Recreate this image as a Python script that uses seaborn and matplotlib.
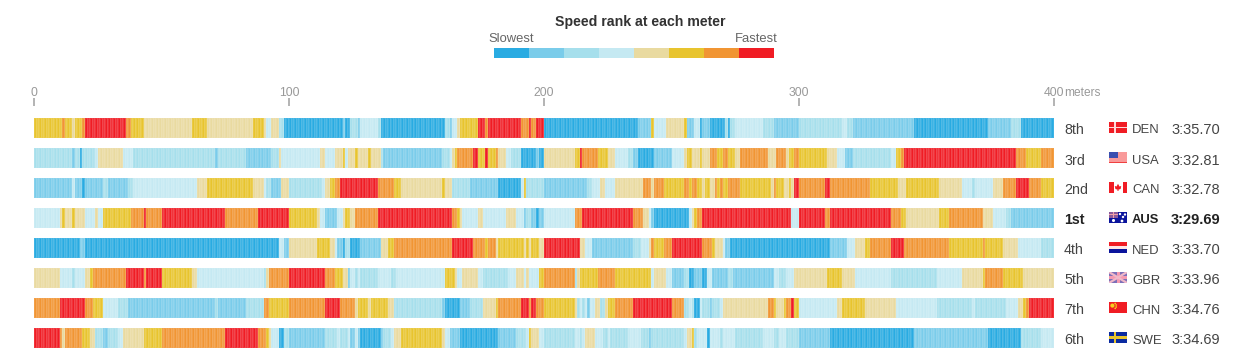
import numpy as np
import matplotlib
matplotlib.use('Agg')
import matplotlib.pyplot as plt
from matplotlib.colors import ListedColormap
from matplotlib.patches import Rectangle, Polygon
import seaborn as sns

# speed rank per stretch: (rank, last meter of the stretch)
# 0 = slowest ... 7 = fastest
den = [(5,11),(6,12),(5,15),(4,16),(5,19),(6,20),(7,36),(6,38),(5,43),(4,62),(5,68),(4,86),(5,90),(4,91),(3,93),(4,96),(2,98),
       (0,121),(1,122),(0,124),(2,127),(1,128),(3,135),(2,136),(0,161),(2,163),(1,164),(3,166),(4,167),(5,174),(7,177),(6,178),
       (7,191),(6,194),(7,195),(6,197),(7,200),(0,237),(1,242),(5,243),(3,248),(4,255),(5,256),(1,259),(3,261),(0,262),(1,265),
       (0,271),(2,272),(0,273),(2,275),(3,286),(2,290),(1,300),(2,317),(3,319),(2,321),(1,345),(0,374),(1,383),(2,387),(0,400)]
usa = [(2,15),(1,16),(2,18),(0,19),(2,24),(3,25),(4,35),(3,39),(2,71),(1,72),(2,83),(1,93),(2,96),(4,97),(3,112),(4,114),(3,118),
       (4,121),(5,122),(3,123),(4,126),(5,127),(4,131),(5,132),(4,136),(2,137),(1,160),(2,163),(3,164),(4,165),(5,166),(6,172),
       (7,174),(5,177),(7,178),(5,181),(6,182),(4,185),(3,187),(2,191),(0,197),(1,198),(0,200),(4,212),(5,214),(7,215),(6,221),
       (5,225),(4,228),(3,233),(2,235),(1,237),(0,243),(1,250),(3,255),(4,256),(5,258),(4,261),(5,262),(4,265),(6,268),(5,270),
       (6,272),(5,275),(4,277),(6,288),(4,291),(6,295),(4,296),(5,298),(6,300),(5,311),(4,315),(3,318),(1,321),(2,336),(3,338),
       (5,340),(6,341),(7,385),(6,389),(5,395),(6,400)]
can = [(1,15),(3,16),(1,19),(0,20),(1,27),(2,29),(1,37),(2,39),(3,64),(4,68),(5,86),(4,90),(3,91),(2,93),(1,97),(4,100),(2,113),
       (3,114),(4,116),(5,118),(6,120),(7,135),(6,141),(5,144),(4,160),(5,161),(4,164),(2,171),(1,182),(0,191),(3,192),(5,193),
       (2,200),(1,217),(2,219),(3,222),(4,224),(3,228),(4,239),(6,242),(4,243),(6,247),(5,255),(6,257),(5,258),(6,260),(5,262),
       (4,263),(5,265),(4,267),(6,268),(5,269),(6,270),(5,272),(6,277),(5,289),(4,290),(6,291),(5,294),(4,296),(5,297),(4,298),
       (7,300),(6,310),(7,312),(6,328),(5,339),(4,342),(5,355),(4,364),(3,368),(2,369),(3,376),(4,380),(6,385),(7,390),(6,395),(5,400)]
aus = [(3,10),(4,11),(5,12),(4,15),(5,16),(4,20),(3,24),(4,25),(3,27),(5,38),(6,43),(7,44),(6,50),(7,75),(6,88),(7,100),(5,111),
       (4,112),(3,114),(1,119),(3,121),(4,122),(5,124),(4,126),(6,135),(7,164),(6,166),(5,167),(4,168),(3,174),(4,176),(3,185),
       (4,189),(3,192),(1,193),(2,195),(1,197),(0,198),(1,200),(3,212),(6,215),(7,235),(6,239),(4,241),(3,242),(1,243),(0,257),
       (3,258),(4,259),(5,260),(6,262),(7,297),(3,300),(7,310),(6,312),(7,336),(6,340),(5,342),(4,355),(5,359),(6,372),(4,376),
       (3,381),(2,383),(1,400)]
ned = [(0,18),(1,20),(0,96),(3,98),(1,100),(4,111),(5,116),(4,118),(3,119),(1,121),(0,122),(2,124),(0,128),(1,136),(4,139),(5,141),
       (6,164),(7,172),(6,177),(5,178),(6,181),(4,182),(5,192),(4,193),(5,194),(4,195),(5,198),(4,200),(7,214),(4,216),(3,219),
       (1,235),(2,238),(3,241),(4,242),(6,243),(5,247),(6,250),(7,262),(6,266),(5,267),(4,270),(3,271),(1,273),(0,312),(1,319),
       (3,322),(4,326),(5,328),(6,336),(7,341),(6,359),(5,372),(6,373),(5,380),(4,386),(3,395),(2,400)]
gbr = [(4,10),(3,15),(2,16),(3,20),(4,22),(5,23),(6,36),(7,43),(6,44),(7,50),(5,62),(4,64),(3,90),(2,91),(4,92),(6,100),(7,114),
       (6,118),(5,121),(4,123),(1,124),(3,126),(2,127),(3,128),(2,135),(3,140),(2,142),(3,161),(5,165),(4,166),(3,168),(4,174),
       (3,176),(2,186),(3,189),(4,192),(3,193),(4,194),(3,198),(5,200),(6,212),(2,213),(4,214),(5,221),(6,228),(5,242),(3,243),
       (4,248),(3,250),(1,255),(2,257),(0,259),(1,262),(0,264),(3,266),(1,272),(2,274),(1,290),(3,292),(2,295),(3,298),(4,311),
       (5,317),(4,322),(3,336),(2,354),(3,364),(4,372),(5,373),(6,380),(5,388),(4,400)]
chn = [(6,10),(7,20),(6,23),(5,27),(3,33),(2,37),(1,71),(2,72),(1,83),(2,90),(6,92),(5,100),(6,114),(7,120),(6,126),(4,127),(5,131),
       (4,132),(5,139),(4,141),(2,160),(1,161),(0,167),(1,171),(2,176),(4,181),(5,182),(6,191),(7,194),(6,195),(7,197),(6,200),
       (5,212),(4,213),(2,214),(3,215),(2,216),(3,217),(1,218),(3,220),(4,222),(2,224),(4,225),(5,228),(6,235),(7,250),(6,255),
       (2,257),(3,258),(2,259),(0,261),(3,262),(2,265),(1,266),(2,269),(3,270),(4,288),(6,290),(5,291),(4,294),(5,295),(6,297),
       (7,298),(5,300),(3,315),(4,317),(5,326),(4,338),(3,354),(2,368),(3,369),(2,381),(3,386),(4,388),(5,389),(6,390),(7,400)]
swe = [(7,10),(6,11),(4,12),(6,19),(5,22),(4,24),(2,27),(1,29),(2,33),(3,35),(4,43),(5,50),(6,75),(7,88),(6,91),(5,92),(4,93),(3,96),
       (0,98),(2,100),(1,114),(2,119),(3,120),(2,123),(3,124),(1,126),(3,127),(1,128),(0,136),(1,137),(2,140),(3,141),(4,144),
       (5,160),(4,161),(3,163),(1,167),(0,182),(1,189),(2,193),(3,194),(5,195),(4,198),(3,200),(2,212),(3,214),(2,215),(3,216),
       (4,220),(3,223),(2,225),(3,226),(2,233),(3,238),(2,241),(1,242),(2,255),(3,256),(4,258),(5,259),(2,260),(3,264),(0,265),
       (3,269),(2,270),(3,275),(2,286),(3,290),(2,292),(3,295),(2,300),(1,312),(0,345),(1,374),(0,387),(2,395),(3,400)]

teams = ['DEN', 'USA', 'CAN', 'AUS', 'NED', 'GBR', 'CHN', 'SWE']
places = ['8th', '3rd', '2nd', '1st', '4th', '5th', '7th', '6th']
times = ['3:35.70', '3:32.81', '3:32.78', '3:29.69', '3:33.70', '3:33.96', '3:34.76', '3:34.69']
stretches = [den, usa, can, aus, ned, gbr, chn, swe]
rank_colors = ['#29abe2', '#7accea', '#a6dfec', '#c5e9f2', '#e9daa0', '#e8c42e', '#f19533', '#f01c24']
meter_ticks = [0, 100, 200, 300, 400]

W, H = 1241, 355
DARK = '#444444'
GRAY = '#666666'
plt.rcParams['font.family'] = ['Liberation Sans', 'DejaVu Sans']
cmap = ListedColormap(rank_colors)
fig = plt.figure(figsize=(W / 100, H / 100), dpi=100)


def px_axes(x0, y0, x1, y1):
    # axes from pixel box, y counted from the top
    return fig.add_axes([x0 / W, 1 - y1 / H, (x1 - x0) / W, (y1 - y0) / H])


def px_text(x, y, s, **kw):
    kw.setdefault('va', 'center')
    fig.text(x / W, 1 - y / H, s, **kw)


def draw_flag(ax, code):
    ax.set_xlim(0, 18)
    ax.set_ylim(11, 0)
    ax.axis('off')

    def box(x, y, w, h, c):
        ax.add_patch(Rectangle((x, y), w, h, color=c, lw=0))

    if code == 'DEN':
        box(0, 0, 18, 11, '#f01c24')
        box(0, 4.6, 18, 1.8, '#ffd9d9')
        box(5, 0, 1.8, 11, '#ffd9d9')
    elif code == 'USA':
        box(0, 0, 18, 11, '#f99a9a')
        box(0, 9.5, 18, 1, '#f04040')
        box(0, 0, 9, 6, '#3a4fb0')
    elif code == 'CAN':
        box(0, 0, 18, 11, '#ffffff')
        box(0, 0, 4.5, 11, '#f01c24')
        box(13.5, 0, 4.5, 11, '#f01c24')
        ax.add_patch(Polygon([(9, 1.8), (10.5, 4.5), (12.2, 4), (11.6, 7), (9.5, 7.6), (9.5, 9), (8.5, 9), (8.5, 7.6),
                              (6.4, 7), (5.8, 4), (7.5, 4.5)], color='#f01c24', lw=0))
    elif code == 'AUS':
        box(0, 0, 18, 11, '#0a149c')
        box(0, 0, 9, 5.5, '#8a5a9a')
        box(0, 2, 9, 1.4, '#f0a0a8')
        box(3.8, 0, 1.4, 5.5, '#f0a0a8')
        ax.scatter([4.5, 11, 14, 16, 13], [8.5, 2, 5, 2.5, 9], s=[5, 3, 3, 3, 4], c='white', lw=0)
    elif code == 'NED':
        box(0, 0, 18, 3.6, '#f01c24')
        box(0, 3.6, 18, 3.8, '#ffe6e6')
        box(0, 7.4, 18, 3.6, '#0a149c')
    elif code == 'GBR':
        box(0, 0, 18, 11, '#7d6fb8')
        ax.plot([0, 18], [0, 11], color='#f0b8c8', lw=1.6)
        ax.plot([0, 18], [11, 0], color='#f0b8c8', lw=1.6)
        box(0, 4, 18, 3, '#f59ab0')
        box(7.5, 0, 3, 11, '#f59ab0')
    elif code == 'CHN':
        box(0, 0, 18, 11, '#f01c24')
        ax.scatter([3.4, 6.2, 7.2, 7.2, 6.2], [3.6, 1.5, 3, 5, 6.4], s=[9, 1.5, 1.5, 1.5, 1.5], c='#f5d020', lw=0)
    elif code == 'SWE':
        box(0, 0, 18, 11, '#0a2aa0')
        box(0, 4.4, 18, 2.2, '#e8c42e')
        box(5, 0, 2.2, 11, '#e8c42e')


# one strip per team, thin pale seams between the meters
for i, team in enumerate(teams):
    ranks, ends = zip(*stretches[i])
    per_meter = np.repeat(ranks, np.diff((0,) + ends))
    top = 118 + i * 30
    ax = px_axes(34, top, 1054, top + 20)
    sns.heatmap(per_meter.reshape(1, -1), ax=ax, cmap=cmap, vmin=-0.5, vmax=7.5, cbar=False,
                xticklabels=False, yticklabels=False, linewidths=0.2, linecolor=(1, 1, 1, 0.1))

    weight = 'bold' if team == 'AUS' else 'normal'
    color = '#222222' if team == 'AUS' else DARK
    px_text(1064, top + 12.5, places[i], fontsize=10.3, color=color, weight=weight)
    px_text(1132, top + 12.5, team, fontsize=9.4, color=color, weight=weight)
    px_text(1171, top + 12.5, times[i], fontsize=10.5, color=color, weight=weight)
    draw_flag(px_axes(1109, top + 4, 1127, top + 15), team)

# meter ruler above the strips
ruler = px_axes(34, 106, 1054, 106.01)
ruler.set_xlim(0, 400)
ruler.set_yticks([])
ruler.set_xticks(meter_ticks)
ruler.tick_params(axis='x', bottom=False, labelbottom=False, top=True, labeltop=True, length=5.8, width=1.4,
                  color='#b3b3b3', labelcolor='#999999', labelsize=8.8, pad=-1)
sns.despine(ax=ruler, left=True, bottom=True, top=True, right=True)
px_text(1064.5, 93, 'meters', fontsize=8.6, color='#999999')

# legend
px_text(640.5, 22, 'Speed rank at each meter', fontsize=10.2, color='#333333', weight='bold', ha='center')
px_text(511, 39, 'Slowest', fontsize=9.4, color=GRAY, ha='center')
px_text(756, 39, 'Fastest', fontsize=9.4, color=GRAY, ha='center')
legend_ax = px_axes(494, 48, 774, 58)
sns.heatmap([list(range(len(rank_colors)))], ax=legend_ax, cmap=cmap, vmin=-0.5, vmax=7.5, cbar=False,
            xticklabels=False, yticklabels=False)

fig.savefig('out.png', dpi=100)
